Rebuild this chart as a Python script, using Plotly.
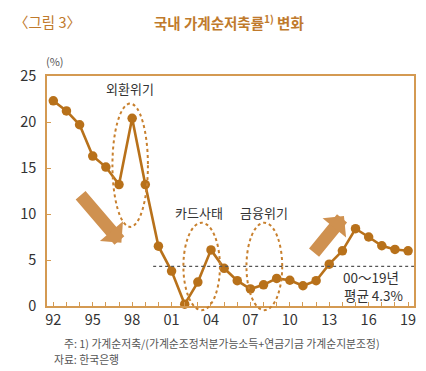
import plotly.graph_objects as go

# ---- data ----
years = list(range(1992, 2020))
saving_rate = [22.3, 21.2, 19.7, 16.3, 15.1, 13.2, 20.4, 13.2, 6.5, 3.8,
               0.2, 2.6, 6.1, 4.1, 2.75, 1.85, 2.3, 3.0, 2.8, 2.2,
               2.75, 4.55, 6.0, 8.4, 7.5, 6.55, 6.15, 6.0]
tick_years = years
tick_labels = [f"{y % 100:02d}" if (y - 1992) % 3 == 0 else "" for y in years]
avg_value = 4.3
avg_start = 1999.6
events = ["외환위기", "카드사태", "금융위기"]

# ---- styling ----
LINE = "#b8711a"
FRAME = "#d49a52"
ELL = "#c8802e"
ARROW = "#cf9150"
TXT = "#333333"
TITLE = "#c07a2c"
FONT = "Noto Sans CJK KR"

XR = [1991.52, 2019.45]
YR = [0, 25]

def px(x):
    return (x - XR[0]) / (XR[1] - XR[0])

def py(y):
    return (y - YR[0]) / (YR[1] - YR[0])

fig = go.Figure()
fig.add_trace(go.Scatter(
    x=years, y=saving_rate, mode="lines+markers",
    line=dict(color=LINE, width=2.6),
    marker=dict(color=LINE, size=9.5),
    cliponaxis=False, showlegend=False, hoverinfo="x+y"))

shapes = []
ellipses = [(1996.5, 1999.2, 8.6, 22.0),
            (2001.9, 2004.68, -0.45, 9.05),
            (2006.7, 2009.42, -0.45, 9.05)]
for (a, b, c, d) in ellipses:
    shapes.append(dict(type="circle", xref="paper", yref="paper",
                       x0=px(a), x1=px(b), y0=py(c), y1=py(d),
                       line=dict(color=ELL, width=2, dash="dot"), layer="above"))
shapes.append(dict(type="line", xref="paper", yref="y",
                   x0=px(avg_start), x1=1, y0=avg_value, y1=avg_value,
                   line=dict(color="#555555", width=1.3, dash="dot")))
fig.update_layout(shapes=shapes)

ann = []
ann.append(dict(x=1997.8, y=23.6, text=events[0], size=13))
ann.append(dict(x=2003.1, y=10.2, text=events[1], size=13))
ann.append(dict(x=2008.05, y=10.2, text=events[2], size=13))
ann.append(dict(x=2016.2, y=3.2, text="00～19년", size=13.5))
ann.append(dict(x=2016.4, y=1.2, text=f"평균 {avg_value}%", size=13.5))
for a in ann:
    s = a.pop("size")
    a.update(xref="x", yref="y", showarrow=False,
             font=dict(family=FONT, size=s, color=TXT))

for (tx, ty, sx, sy) in [(1997.18, 6.88, 1993.98, 12.2),
                          (2014.12, 9.78, 2011.75, 5.65)]:
    ann.append(dict(x=tx, y=ty, ax=sx, ay=sy, xref="x", yref="y",
                    axref="x", ayref="y", text="", showarrow=True,
                    arrowhead=1, arrowwidth=13, arrowsize=0.39,
                    arrowcolor=ARROW, standoff=0, startstandoff=0))

ann.append(dict(xref="paper", yref="paper", x=-0.095, y=1.235, xanchor="left",
                yanchor="middle", showarrow=False, text="〈그림 3〉",
                font=dict(family=FONT, size=14.5, color=TITLE)))
ann.append(dict(xref="paper", yref="paper", x=0.495, y=1.235, xanchor="center",
                yanchor="middle", showarrow=False,
                text="<b>국내 가계순저축률<sup>1)</sup> 변화</b>",
                font=dict(family=FONT, size=14.5, color=TITLE)))
ann.append(dict(xref="paper", yref="paper", x=-0.008, y=1.0, xanchor="left",
                yanchor="bottom", yshift=5, showarrow=False, text="(%)",
                font=dict(family=FONT, size=11, color="#555555")))
ann.append(dict(xref="paper", yref="paper", x=0.04, y=-0.161, xanchor="left",
                yanchor="middle", showarrow=False,
                text="주: 1) 가계순저축/(가계순조정처분가능소득+연금기금 가계순지분조정)",
                font=dict(family=FONT, size=10.8, color="#555555")))
ann.append(dict(xref="paper", yref="paper", x=0.013, y=-0.230, xanchor="left",
                yanchor="middle", showarrow=False, text="자료: 한국은행",
                font=dict(family=FONT, size=10.8, color="#555555")))
fig.update_layout(annotations=ann)

# the page body adds an 8px offset, so the figure is 8px smaller
fig.update_layout(
    width=418, height=363,
    margin=dict(l=39, r=10, t=68, b=65),
    paper_bgcolor="white", plot_bgcolor="white",
    font=dict(family=FONT, color=TXT),
    xaxis=dict(range=XR, tickvals=tick_years, ticktext=tick_labels,
               ticks="inside", ticklen=4, tickcolor=FRAME, tickwidth=1,
               showline=True, linecolor=FRAME, linewidth=1.5, mirror=True,
               showgrid=False, zeroline=False,
               tickfont=dict(family=FONT, size=14.5, color=TXT)),
    yaxis=dict(range=YR, dtick=5, ticks="inside", ticklen=4, tickcolor=FRAME,
               showline=True, linecolor=FRAME, linewidth=1.5, mirror=True,
               showgrid=False, zeroline=False, ticklabelstandoff=6,
               tickfont=dict(family=FONT, size=14.5, color=TXT)),
)

fig.write_html("out.html")
